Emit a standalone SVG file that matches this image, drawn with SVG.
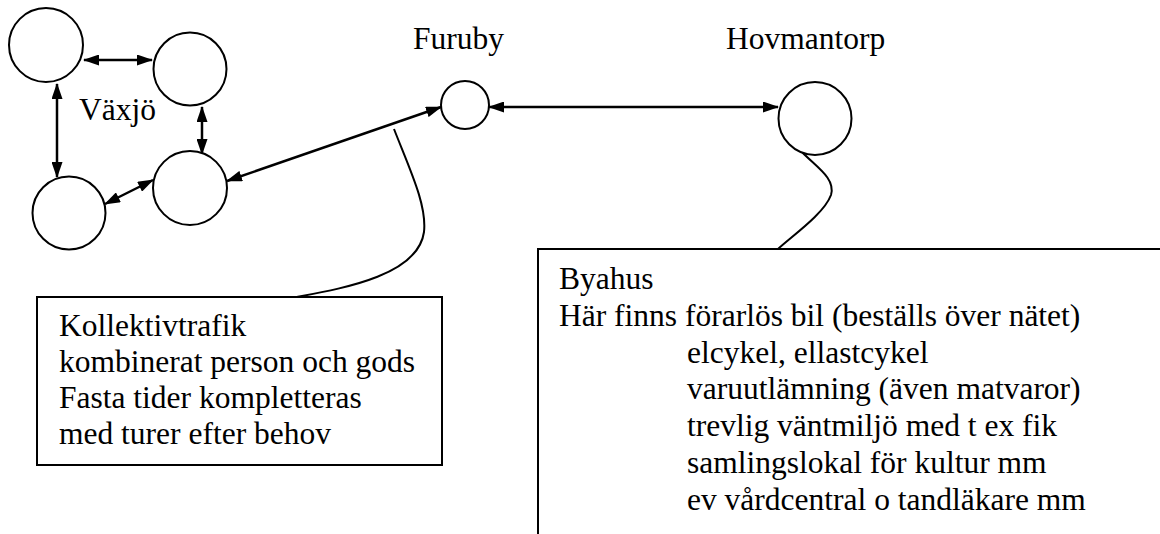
<svg xmlns="http://www.w3.org/2000/svg" width="1160" height="534" viewBox="0 0 1160 534">
<style>
.n{fill:#fff;stroke:#000;stroke-width:2}
.c{fill:none;stroke:#000;stroke-width:2.5}
.cl{fill:none;stroke:#000;stroke-width:2}
.b{fill:#fff;stroke:#000;stroke-width:2}
.t{font-family:"Liberation Serif","Times New Roman",serif;font-size:31.5px;fill:#000}
</style>
<defs>
<marker id="a" viewBox="0 0 16 11" refX="15" refY="5.5" markerWidth="16" markerHeight="11" orient="auto-start-reverse" markerUnits="userSpaceOnUse">
<path d="M0,0 L16,5.5 L0,11 z" fill="#000"/>
</marker>
</defs>
<rect width="1160" height="534" fill="#fff"/>
<g id="connectors">
<line class="c" x1="84" y1="60" x2="152" y2="60" marker-start="url(#a)" marker-end="url(#a)"/>
<line class="c" x1="57" y1="84" x2="57" y2="177" marker-start="url(#a)" marker-end="url(#a)"/>
<line class="c" x1="202" y1="107" x2="202" y2="154" marker-start="url(#a)" marker-end="url(#a)"/>
<line class="c" x1="105" y1="204" x2="153" y2="180" marker-start="url(#a)" marker-end="url(#a)"/>
<line class="c" x1="227" y1="181" x2="441" y2="107" marker-start="url(#a)" marker-end="url(#a)"/>
<line class="c" x1="489" y1="107" x2="778" y2="107" marker-start="url(#a)" marker-end="url(#a)"/>
<path class="cl" d="M394,129 C410,170 427,205 424,232 C418,275 345,288 297,297"/>
<path class="cl" d="M802,152 C815,166 836,178 831,195 C824,214 792,236 778,249"/>
</g>
<g id="vaxjo1"><circle class="n" cx="46" cy="45" r="37"/></g>
<g id="vaxjo2"><circle class="n" cx="190" cy="69" r="36.5"/></g>
<g id="vaxjo3"><circle class="n" cx="69" cy="213" r="36.5"/></g>
<g id="vaxjo4"><circle class="n" cx="190" cy="188" r="37"/></g>
<g id="vaxjo-label"><text class="t" x="79" y="120">Växjö</text></g>
<g id="furuby">
<circle class="n" cx="465" cy="105" r="24"/>
<text class="t" x="413" y="49">Furuby</text>
</g>
<g id="hovmantorp">
<circle class="n" cx="815" cy="118.5" r="36.5"/>
<text class="t" x="726" y="49">Hovmantorp</text>
</g>
<g id="kollektivtrafik">
<rect class="b" x="37" y="297" width="405" height="168"/>
<text class="t" x="59" y="336">Kollektivtrafik</text>
<text class="t" x="59" y="372">kombinerat person och gods</text>
<text class="t" x="59" y="408">Fasta tider kompletteras</text>
<text class="t" x="59" y="444">med turer efter behov</text>
</g>
<g id="byahus">
<path class="b" d="M538,540 V249 H1170"/>
<text class="t" x="559" y="289">Byahus</text>
<text class="t" x="559" y="326">Här finns förarlös bil (beställs över nätet)</text>
<text class="t" x="687" y="363">elcykel, ellastcykel</text>
<text class="t" x="687" y="399">varuutlämning (även matvaror)</text>
<text class="t" x="687" y="436">trevlig väntmiljö med t ex fik</text>
<text class="t" x="687" y="473">samlingslokal för kultur mm</text>
<text class="t" x="687" y="510">ev vårdcentral o tandläkare mm</text>
</g>
</svg>
